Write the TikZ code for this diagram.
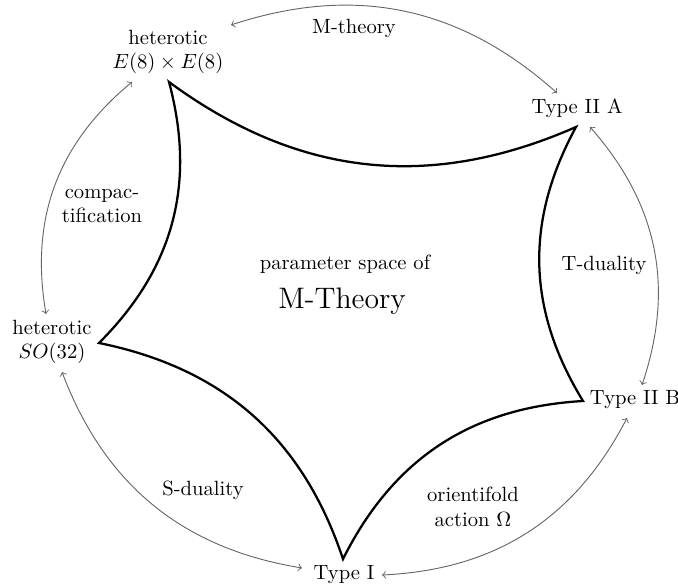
\documentclass[tikz,border=0pt]{standalone}
\begin{document}
\begin{tikzpicture}[x=0.4854pt,y=0.4854pt,
  lbl/.style={align=center,inner sep=0pt},
  star/.style={line width=1.1pt,line join=miter},
  dual/.style={<->,black!60,line width=0.45pt}]
\useasboundingbox (0,0) rectangle (678,587);
% cusps of the star
\coordinate (E8c) at (169,505);
\coordinate (IIAc) at (576,460);
\coordinate (IIBc) at (583,186);
\coordinate (Ic) at (343,28);
\coordinate (SOc) at (99,244);
% labels
\node[lbl] (E8) at (168,535) {heterotic\\$E(8)\times E(8)$};
\node[lbl] (IIA) at (577,479) {Type II A};
\node[lbl] (IIB) at (635,187) {Type II B};
\node[lbl] (I) at (344,12) {Type I};
\node[lbl] (SO) at (52,245) {heterotic\\$SO(32)$};
\node[lbl] (ps) at (345,323) {parameter space of};
\node[lbl] (mt) at (342,286) {\Large M-Theory};
% star
\draw[star] (E8c) to[bend right=30] (IIAc) to[bend right=30] (IIBc)
  to[bend right=30] (Ic) to[bend right=30] (SOc) to[bend right=30] (E8c) -- cycle;
% arrow ends
\coordinate (A1) at (231,562); \coordinate (A2) at (557,494);
\coordinate (B1) at (590,460); \coordinate (B2) at (642,202);
\coordinate (C1) at (382,12);  \coordinate (C2) at (627,169);
\coordinate (D1) at (62,215);  \coordinate (D2) at (302,19);
\coordinate (F1) at (132,505); \coordinate (F2) at (46,273);
\draw[dual] (A1) to[bend left=30] (A2);
\draw[dual] (B1) to[bend left=30] (B2);
\draw[dual] (C1) to[bend right=30] (C2);
\draw[dual] (D1) to[bend right=30] (D2);
\draw[dual] (F1) to[bend right=30] (F2);
% arrow labels
\node[lbl] (lM) at (354,559) {M-theory};
\node[lbl] (lT) at (604,322) {T-duality};
\node[lbl] (lO) at (473,80) {orientifold\\action $\Omega$};
\node[lbl] (lS) at (203,97) {S-duality};
\node[lbl] (lC) at (102,381) {compac-\\tification};
\end{tikzpicture}
\end{document}
